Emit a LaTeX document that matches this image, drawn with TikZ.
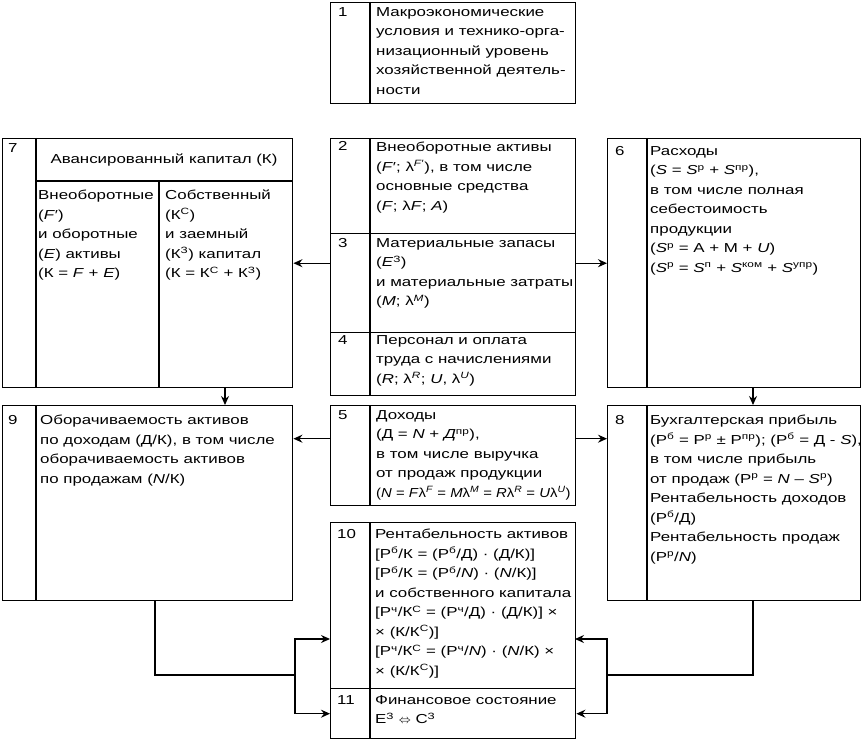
\documentclass[tikz,border=0pt]{standalone}
\usepackage{graphicx}
\usepackage{fontspec}
\setmainfont{Liberation Sans}[FakeStretch=1.3]
\usetikzlibrary{arrows.meta,positioning}
\newcommand{\mv}[1]{\textit{#1}}
\newcommand{\hi}[1]{\textsuperscript{#1}}

\tikzset{
  blk/.style={draw, line width=1.4pt, inner sep=0pt, anchor=north west},
  txt/.style={anchor=north west, align=left, inner sep=0pt, font=\fontsize{13}{19.5}\selectfont},
  num/.style={anchor=north west, inner sep=0pt, font=\fontsize{13}{19.5}\selectfont},
  arr/.style={line width=1.4pt, -{Stealth[length=9pt,width=8pt,inset=3pt]}},
  lnk/.style={line width=1.4pt},
}

\begin{document}
\begin{tikzpicture}[x=1pt,y=-1pt]
\useasboundingbox (0,0) rectangle (863,741);

% Blocks
\node[blk, minimum width=245pt, minimum height=101pt] (b1) at (330,2) {};
\node[blk, minimum width=290pt, minimum height=249pt] (b7) at (2,138) {};
\node[blk, minimum width=245pt, minimum height=95pt] (b2) at (330,138) {};
\node[blk, minimum width=245pt, minimum height=99pt] (b3) at (330,233) {};
\node[blk, minimum width=245pt, minimum height=63pt] (b4) at (330,332) {};
\node[blk, minimum width=253pt, minimum height=249pt] (b6) at (607,138) {};
\node[blk, minimum width=290pt, minimum height=195pt] (b9) at (2,405) {};
\node[blk, minimum width=245pt, minimum height=100pt] (b5) at (330,405) {};
\node[blk, minimum width=253pt, minimum height=195pt] (b8) at (607,405) {};
\node[blk, minimum width=245pt, minimum height=166pt] (b10) at (330,522) {};
\node[blk, minimum width=245pt, minimum height=50pt] (b11) at (330,688) {};

% Number columns
\foreach \b/\d in {b1/40, b2/40, b3/40, b4/40, b5/40, b10/40, b11/40, b6/40, b8/40, b7/34, b9/34}
  \draw[lnk] ([xshift=\d pt]\b.north west) -- ([xshift=\d pt]\b.south west);

% Block 7 header and columns
\draw[lnk] ([xshift=34pt,yshift=-43pt]b7.north west) -- ([yshift=-43pt]b7.north east);
\draw[lnk] ([xshift=157pt,yshift=-43pt]b7.north west) -- ([xshift=157pt]b7.south west);

% Numbers
\node[num] (n1) at (338,7) {1};
\node[num] (n7) at (8,143) {7};
\node[num] (n2) at (338,141) {2};
\node[num] (n3) at (338,238) {3};
\node[num] (n4) at (338,335) {4};
\node[num] (n6) at (615,146) {6};
\node[num] (n9) at (8,415) {9};
\node[num] (n5) at (338,410) {5};
\node[num] (n8) at (615,415) {8};
\node[num] (n10) at (337,529) {10};
\node[num] (n11) at (337,695) {11};

% Texts
\node[txt] (t1) at (376,7) {Макроэкономические\\условия и технико-орга-\\низационный уровень\\хозяйственной деятель-\\ности};
\node[txt, anchor=center] (t7) at (164,160) {Авансированный капитал (К)};
\node[txt] (t7l) at (38,190) {Внеоборотные\\(\mv{F}′)\\и оборотные\\(\mv{E}) активы\\(К = \mv{F} + \mv{E})};
\node[txt] (t7r) at (165,190) {Собственный\\(К\hi{С})\\и заемный\\(К\hi{З}) капитал\\(К = К\hi{С} + К\hi{З})};
\node[txt] (t2) at (376,142) {Внеоборотные активы\\(\mv{F}′; λ\hi{\mv{F}′}), в том числе\\основные средства\\(\mv{F}; λ\mv{F}; \mv{A})};
\node[txt] (t3) at (376,238) {Материальные запасы\\(\mv{E}\hi{З})\\и материальные затраты\\(\mv{M}; λ\hi{\mv{M}})};
\node[txt] (t4) at (376,335) {Персонал и оплата\\труда с начислениями\\(\mv{R}; λ\hi{\mv{R}}; \mv{U}, λ\hi{\mv{U}})};
\node[txt] (t6) at (650,146) {Расходы\\(\mv{S} = \mv{S}\hi{р} + \mv{S}\hi{пр}),\\в том числе полная\\себестоимость\\продукции\\(\mv{S}\hi{р} = A + M + \mv{U})\\(\mv{S}\hi{р} = \mv{S}\hi{п} + \mv{S}\hi{ком} + \mv{S}\hi{упр})};
\node[txt] (t9) at (40,415) {Оборачиваемость активов\\по доходам (Д/К), в том числе\\оборачиваемость активов\\по продажам (\mv{N}/К)};
\node[txt] (t5) at (376,410) {Доходы\\(Д = \mv{N} + \mv{Д}\hi{пр}),\\в том числе выручка\\от продаж продукции\\\scalebox{0.88}[1]{(\mv{N} = \mv{F}λ\hi{\mv{F}} = \mv{M}λ\hi{\mv{M}} = \mv{R}λ\hi{\mv{R}} = \mv{U}λ\hi{\mv{U}})}};
\node[txt] (t8) at (650,415) {Бухгалтерская прибыль\\(Р\hi{б} = Р\hi{р} ± Р\hi{пр}); (Р\hi{б} = Д - \mv{S}),\\в том числе прибыль\\от продаж (Р\hi{р} = \mv{N} – \mv{S}\hi{р})\\Рентабельность доходов\\(Р\hi{б}/Д)\\Рентабельность продаж\\(Р\hi{р}/\mv{N})};
\node[txt] (t10) at (375,529) {Рентабельность активов\\{}[Р\hi{б}/К = (Р\hi{б}/Д) · (Д/К)]\\{}[Р\hi{б}/К = (Р\hi{б}/\mv{N}) · (\mv{N}/К)]\\и собственного капитала\\{}[Р\hi{ч}/К\hi{С} = (Р\hi{ч}/Д) · (Д/К)] ×\\× (К/К\hi{С})]\\{}[Р\hi{ч}/К\hi{С} = (Р\hi{ч}/\mv{N}) · (\mv{N}/К) ×\\× (К/К\hi{С})]};
\node[txt] (t11) at (375,695) {Финансовое состояние\\Е\hi{З} $\Leftrightarrow$ С\hi{З}};

% Connectors
\coordinate (k7) at (225,387);
\coordinate (k6) at (753,387);
\draw[arr] (b3.west |- b7.east) -- (b7.east);
\draw[arr] (b3.east |- b6.west) -- (b6.west);
\draw[arr] (k7) -- (k7 |- b9.north);
\draw[arr] (k6) -- (k6 |- b8.north);
\draw[arr] ([yshift=17pt]b5.west) -- ([yshift=17pt]b5.west -| b9.east);
\draw[arr] ([yshift=17pt]b5.east) -- ([yshift=17pt]b5.east -| b8.west);

% Bottom feedback
\coordinate (k9) at (155,600);
\coordinate (j9) at (295,675);
\coordinate (k10) at (330,639);
\coordinate (k8) at (753,600);
\coordinate (j8) at (607,675);
\coordinate (k10r) at (575,639);
\draw[lnk] (k9) |- (j9);
\draw[arr] (j9) |- (k10);
\draw[arr] (j9) |- (b11.west);
\draw[lnk] (k8) |- (j8);
\draw[arr] (j8) |- (k10r);
\draw[arr] (j8) |- (b11.east);

\end{tikzpicture}
\end{document}
